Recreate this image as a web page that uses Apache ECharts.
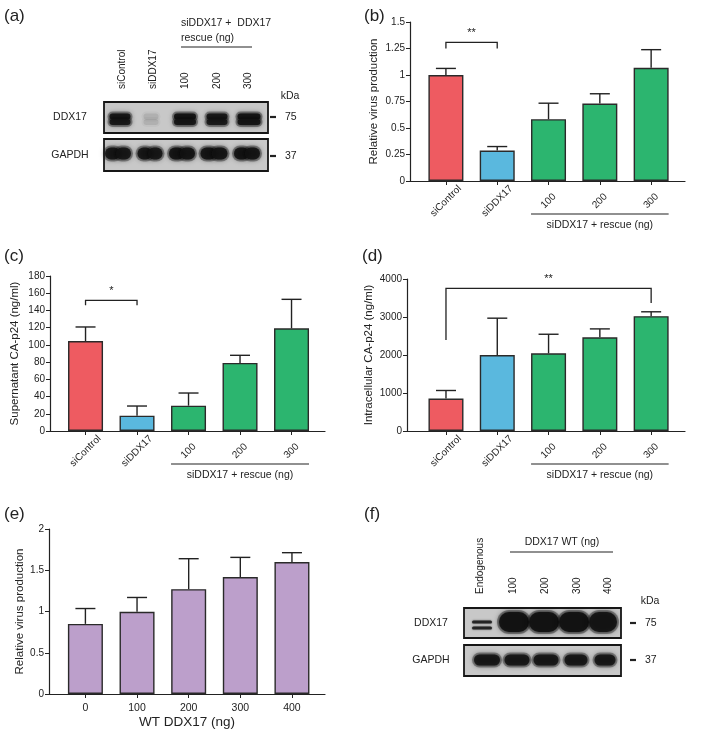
<!DOCTYPE html>
<html><head><meta charset="utf-8">
<script src="https://cdn.jsdelivr.net/npm/echarts@6/dist/echarts.min.js"></script>
<style>html,body{margin:0;padding:0;background:#fff}#c{width:720px;height:730px}</style>
</head><body><div id="c"></div>
<script>
// ---------- data ----------
const rescueCats = ['siControl', 'siDDX17', '100', '200', '300'];
const bVals = [1.0, 0.287, 0.583, 0.731, 1.068];
const bErr  = [1.062, 0.325, 0.734, 0.823, 1.239];
const cVals = [104.5, 17.8, 29.4, 79, 119.2];
const cErr  = [120.8, 29, 44.1, 87.9, 152.9];
const dVals = [855, 2000, 2044, 2467, 3022];
const dErr  = [1066, 2969, 2546, 2687, 3137];
const eCats = ['0', '100', '200', '300', '400'];
const eVals = [0.85, 0.996, 1.271, 1.417, 1.6];
const eErr  = [1.036, 1.17, 1.64, 1.656, 1.713];
// significance brackets: [x1, x2, yBar, yLeftEnd, yRightEnd]
const bSig = [0, 1, 1.308, 1.251, 1.251];
const cSig = [0, 1, 151.8, 146, 146];
const dSig = [0, 4, 3753, 2396, 3366];
// western blots (band intensities)
const blotALanes = ['siControl', 'siDDX17', '100', '200', '300'];
const blotADDX17 = [0.92, 0.1, 0.95, 0.9, 0.97];
const blotAGAPDH = [0.92, 0.92, 0.95, 0.95, 0.95];
const blotFLanes = ['Endogenous', '100', '200', '300', '400'];
const blotFDDX17 = [0.8, 1.0, 1.0, 1.0, 0.95];
const blotFGAPDH = [0.92, 0.92, 0.92, 0.92, 0.92];

// ---------- style ----------
const FONT = '"Liberation Sans", Arial, Helvetica, sans-serif';
const RED = '#EE5B61', BLUE = '#5AB8DE', GREEN = '#2CB56F', PURPLE = '#BC9FCB';
const INK = '#222';

const chart = echarts.init(document.getElementById('c'), null, {renderer: 'canvas'});

const panels = [
  {cats: rescueCats, vals: bVals, err: bErr, colors: [RED, BLUE, GREEN, GREEN, GREEN],
   left: 410, top: 22, width: 275, height: 159, xmin: -0.70, xmax: 4.66, ymax: 1.5, yint: 0.25,
   yname: 'Relative virus production', nameGap: 30, rotate: 45, sig: bSig, sigText: '**', sigTextY: 1.40, group: true},
  {cats: rescueCats, vals: cVals, err: cErr, colors: [RED, BLUE, GREEN, GREEN, GREEN],
   left: 50, top: 276, width: 275, height: 155, xmin: -0.69, xmax: 4.65, ymax: 180, yint: 20,
   yname: 'Supernatant CA-p24 (ng/ml)', nameGap: 29, rotate: 45, sig: cSig, sigText: '*', sigTextY: 163, group: true},
  {cats: rescueCats, vals: dVals, err: dErr, colors: [RED, BLUE, GREEN, GREEN, GREEN],
   left: 407, top: 279, width: 278, height: 152, xmin: -0.76, xmax: 4.66, ymax: 4000, yint: 1000,
   yname: 'Intracellular CA-p24 (ng/ml)', nameGap: 32, rotate: 45, sig: dSig, sigText: '**', sigTextY: 3990, group: true},
  {cats: eCats, vals: eVals, err: eErr, colors: [PURPLE, PURPLE, PURPLE, PURPLE, PURPLE],
   left: 49, top: 529, width: 276, height: 165, xmin: -0.705, xmax: 4.64, ymax: 2, yint: 0.5,
   yname: 'Relative virus production', nameGap: 22, rotate: 0, xname: 'WT DDX17 (ng)'}
];

const grid = [], xAxis = [], yAxis = [], series = [];
panels.forEach((p, i) => {
  grid.push({left: p.left, top: p.top, width: p.width, height: p.height, containLabel: false});
  const idx = [0, 1, 2, 3, 4];
  const xl = {show: true, customValues: idx, formatter: v => p.cats[Math.round(v)],
      rotate: p.rotate, color: INK, fontFamily: FONT};
  if (p.rotate) { Object.assign(xl, {align: 'center', verticalAlign: 'middle', margin: 20, fontSize: 10}); }
  else { Object.assign(xl, {margin: 9, fontSize: 10.5}); }
  xAxis.push({
    type: 'value', gridIndex: i, min: p.xmin, max: p.xmax,
    splitLine: {show: false},
    axisLine: {show: true, onZero: false, lineStyle: {color: INK, width: 1.2}},
    axisTick: {show: true, customValues: idx, length: 4, lineStyle: {color: INK, width: 1}},
    axisLabel: xl,
    name: p.xname || '', nameLocation: 'middle', nameGap: 19,
    nameTextStyle: {fontSize: 13.5, color: INK, fontFamily: FONT}
  });
  yAxis.push({
    type: 'value', gridIndex: i, min: 0, max: p.ymax, interval: p.yint,
    splitLine: {show: false},
    axisLine: {show: true, onZero: false, lineStyle: {color: INK, width: 1.2}},
    axisTick: {show: true, length: 4, lineStyle: {color: INK}},
    axisLabel: {fontSize: 10, color: INK, fontFamily: FONT, margin: 5, formatter: v => String(v)},
    name: p.yname, nameLocation: 'middle', nameGap: p.nameGap, nameRotate: 90,
    nameTextStyle: {fontSize: 11.5, color: INK, fontFamily: FONT}
  });
  series.push({
    type: 'bar', xAxisIndex: i, yAxisIndex: i, barWidth: 35, animation: false,
    itemStyle: {borderColor: '#2a2a2a', borderWidth: 1.4},
    data: p.vals.map((v, j) => ({value: [j, v], itemStyle: {color: p.colors[j]}}))
  });
  series.push({
    type: 'custom', xAxisIndex: i, yAxisIndex: i, clip: false, z: 3, animation: false,
    data: p.vals.map((v, j) => [j, v, p.err[j]]),
    renderItem: (params, api) => {
      const a = api.coord([api.value(0), api.value(1)]);
      const b = api.coord([api.value(0), api.value(2)]);
      return {type: 'group', children: [
        {type: 'line', shape: {x1: a[0], y1: a[1], x2: b[0], y2: b[1]}, style: {stroke: INK, lineWidth: 1.4}},
        {type: 'line', shape: {x1: b[0] - 10, y1: b[1], x2: b[0] + 10, y2: b[1]}, style: {stroke: INK, lineWidth: 1.4}}
      ]};
    }
  });
  if (p.sig) {
    series.push({
      type: 'custom', xAxisIndex: i, yAxisIndex: i, clip: false, z: 3, animation: false,
      data: [p.sig],
      renderItem: (params, api) => {
        const a = api.coord([api.value(0), api.value(3)]);
        const b = api.coord([api.value(0), api.value(2)]);
        const c = api.coord([api.value(1), api.value(2)]);
        const d = api.coord([api.value(1), api.value(4)]);
        const t = api.coord([(api.value(0) + api.value(1)) / 2, p.sigTextY]);
        return {type: 'group', children: [
          {type: 'polyline', shape: {points: [a, b, c, d]}, style: {stroke: INK, lineWidth: 1.3, fill: null}},
          {type: 'text', x: t[0], y: t[1], style: {text: p.sigText, fontSize: 11, fill: INK, fontFamily: FONT, align: 'center', verticalAlign: 'middle'}}
        ]};
      }
    });
  }
  if (p.group) {
    series.push({
      type: 'custom', xAxisIndex: i, yAxisIndex: i, clip: false, z: 3, animation: false,
      data: [[2, 4]],
      renderItem: (params, api) => {
        const a = api.coord([api.value(0), 0]);
        const b = api.coord([api.value(1), 0]);
        const y = a[1] + 33;
        return {type: 'group', children: [
          {type: 'line', shape: {x1: a[0] - 17.5, y1: y, x2: b[0] + 17.5, y2: y}, style: {stroke: INK, lineWidth: 1.2}},
          {type: 'text', x: (a[0] + b[0]) / 2, y: y + 11, style: {text: 'siDDX17 + rescue (ng)', fontSize: 10.5, fill: INK, fontFamily: FONT, align: 'center', verticalAlign: 'middle'}}
        ]};
      }
    });
  }
});

// ---------- blots & labels (graphic) ----------
function txt(x, y, s, size, align, rot) {
  return {type: 'text', x: x, y: y, rotation: rot || 0, silent: true,
    style: {text: s, fontSize: size, fill: INK, fontFamily: FONT, align: align || 'center', verticalAlign: 'middle'}};
}
function pill(cx, cy, w, h, op, blur) {
  return {type: 'rect', silent: true, shape: {x: cx - w / 2, y: cy - h / 2, width: w, height: h, r: h / 2},
    style: {fill: 'rgba(18,18,18,' + op + ')', shadowBlur: blur || 7, shadowColor: 'rgba(0,0,0,' + (op * 0.9) + ')'}};
}
// soft band: faint halo + dark core
function band(cx, cy, w, h, op) {
  return [pill(cx, cy, w + 3, h + 3, op * 0.35, 6), pill(cx, cy, w - 1, h - 1, op * 0.95, 4)];
}
function box(x, y, w, h) {
  return {type: 'rect', silent: true, shape: {x: x, y: y, width: w, height: h},
    style: {fill: '#c8c8c8'}};
}
function frame(x, y, w, h) {
  return {type: 'rect', silent: true, shape: {x: x, y: y, width: w, height: h},
    style: {fill: null, stroke: '#161616', lineWidth: 1.8}};
}
function hline(x1, x2, y, lw) {
  return {type: 'line', silent: true, shape: {x1: x1, y1: y, x2: x2, y2: y}, style: {stroke: INK, lineWidth: lw || 1.2}};
}

const g = [];
// panel letters
g.push(txt(4, 16, '(a)', 17, 'left'), txt(364, 16, '(b)', 17, 'left'),
       txt(4, 256, '(c)', 17, 'left'), txt(362, 256, '(d)', 17, 'left'),
       txt(4, 514, '(e)', 17, 'left'), txt(364, 514, '(f)', 17, 'left'));

// blot (a)
g.push(txt(181, 23, 'siDDX17 +  DDX17', 10.5, 'left'), txt(181, 38, 'rescue (ng)', 10.5, 'left'), hline(181, 252, 47));
const aLaneX = [122, 153, 185, 217, 248];
blotALanes.forEach((s, k) => g.push(txt(aLaneX[k], 89, s, 10, 'left', Math.PI / 2)));
g.push(txt(290, 96, 'kDa', 10.5));
g.push(box(104, 102, 164, 31), box(104, 139, 164, 32));
const aDx = [120, 151, 185, 217, 249], aDw = [22, 16, 23, 22, 24];
blotADDX17.forEach((v, k) => {
  g.push(...band(aDx[k], 116.5, aDw[k], 7, v), ...band(aDx[k], 122, aDw[k], 7, v));
});
const aGx = [118, 150, 182, 214, 247], aGw = [27, 26, 27, 28, 27];
blotAGAPDH.forEach((v, k) => {
  const w = aGw[k];
  g.push(...band(aGx[k] - w * 0.2, 153.5, w * 0.6, 13, v), ...band(aGx[k] + w * 0.2, 153.5, w * 0.6, 13, v));
});
g.push(frame(104, 102, 164, 31), frame(104, 139, 164, 32));
g.push(txt(70, 117, 'DDX17', 10.5), txt(70, 155, 'GAPDH', 10.5));
g.push(hline(270, 276, 117, 2.2), hline(270, 276, 156, 2.2), txt(285, 117, '75', 10.5, 'left'), txt(285, 156, '37', 10.5, 'left'));

// blot (f)
g.push(txt(562, 542, 'DDX17 WT (ng)', 10.5), hline(510, 613, 552));
const fLaneX = [480, 513, 545, 577, 608];
blotFLanes.forEach((s, k) => g.push(txt(fLaneX[k], 594, s, 10, 'left', Math.PI / 2)));
g.push(txt(650, 601, 'kDa', 10.5));
g.push(box(464, 608, 157, 30), box(464, 645, 157, 31));
const fDx = [482, 514, 544, 574, 603], fDw = [20, 31, 31, 31, 29];
blotFDDX17.forEach((v, k) => {
  if (k === 0) { g.push(pill(fDx[k], 622, fDw[k], 3, v, 2), pill(fDx[k], 628, fDw[k], 3, v, 2)); }
  else { g.push(...band(fDx[k], 622, fDw[k], 21, v)); }
});
const fGx = [487, 517, 546, 576, 605], fGw = [27, 26, 26, 24, 22];
blotFGAPDH.forEach((v, k) => g.push(...band(fGx[k], 660, fGw[k], 12, v)));
g.push(frame(464, 608, 157, 30), frame(464, 645, 157, 31));
g.push(txt(431, 623, 'DDX17', 10.5), txt(431, 660, 'GAPDH', 10.5));
g.push(hline(630, 636, 623, 2.2), hline(630, 636, 660, 2.2), txt(645, 623, '75', 10.5, 'left'), txt(645, 660, '37', 10.5, 'left'));

chart.setOption({
  animation: false,
  backgroundColor: '#fff',
  textStyle: {fontFamily: FONT},
  grid: grid, xAxis: xAxis, yAxis: yAxis, series: series,
  graphic: {elements: g}
});
</script>
</body></html>
